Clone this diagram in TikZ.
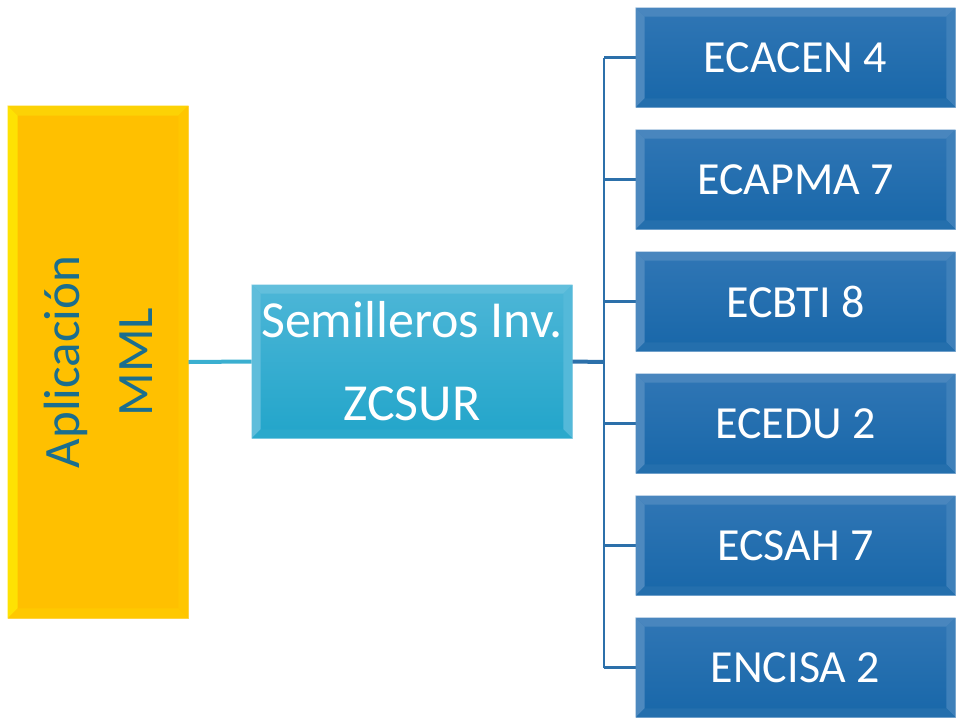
\documentclass[tikz,border=0pt]{standalone}
\usepackage{fontspec}
\setmainfont{Carlito}
\usetikzlibrary{calc}
\definecolor{ytext}{HTML}{1B6E8E}
\definecolor{yfill}{HTML}{FFC000}
\definecolor{ctop}{HTML}{4DB6D7}
\definecolor{cbot}{HTML}{22A5CA}
\definecolor{btop}{HTML}{3076B5}
\definecolor{bbot}{HTML}{1867A9}
\definecolor{cline}{HTML}{3AAFD0}
\definecolor{bline}{HTML}{2C70AA}
\newcommand{\bevelbox}[6]{%
  \fill[#3] (#1.north west) -- (#1.north east) -- ([xshift=-#2,yshift=-#2]#1.north east) -- ([xshift=#2,yshift=-#2]#1.north west) -- cycle;
  \fill[#4] (#1.north west) -- ([xshift=#2,yshift=-#2]#1.north west) -- ([xshift=#2,yshift=#2]#1.south west) -- (#1.south west) -- cycle;
  \fill[#5] (#1.north east) -- (#1.south east) -- ([xshift=-#2,yshift=#2]#1.south east) -- ([xshift=-#2,yshift=-#2]#1.north east) -- cycle;
  \fill[#6] (#1.south west) -- ([xshift=#2,yshift=#2]#1.south west) -- ([xshift=-#2,yshift=#2]#1.south east) -- (#1.south east) -- cycle;
}
\tikzset{
  ybox/.style={rectangle, inner sep=0pt, fill=yfill, draw=yfill!60!white, line width=0.8pt, minimum width=180pt, minimum height=512pt},
  cbox/.style={rectangle, inner sep=0pt, top color=ctop, bottom color=cbot, draw=ctop!50!white, line width=0.8pt, minimum width=320pt, minimum height=153pt},
  bbox/.style={rectangle, inner sep=0pt, top color=btop, bottom color=bbot, draw=btop!50!white, line width=0.8pt, minimum width=319pt, minimum height=99pt},
  ylabel/.style={rotate=90, align=center, text=ytext, font=\fontsize{51}{73}\selectfont},
  clabel/.style={align=center, text=white, font=\fontsize{52}{83}\selectfont},
  blabel/.style={text=white, font=\fontsize{46}{55}\selectfont},
  cconn/.style={draw=cline, line width=4pt},
  mconn/.style={draw=bline, line width=4pt},
  bconn/.style={draw=bline, line width=2.6pt},
}
\begin{document}
\begin{tikzpicture}[x=1pt,y=-1pt]
\useasboundingbox (0,0) rectangle (957,721);
\coordinate (bus) at (604,362);
% boxes
\node[ybox] (app) at (98,362) {};
\node[cbox] (sem) at (412,361.5) {};
\foreach \i/\y in {1/57.5,2/179.5,3/301.5,4/423.5,5/545.5,6/667.5}{
  \node[bbox] (e\i) at (795.5,\y) {};
}
% connectors
\draw[cconn] (app.east) -- (sem.west);
\draw[mconn] (sem.east) -- (bus);
\draw[bconn] (bus |- e1.west) -- (bus |- e6.west);
\foreach \i in {1,...,6}{
  \draw[bconn] (bus |- e\i.west) -- (e\i.west);
}
% bevels
\bevelbox{app}{10pt}{fill=yellow!40!yfill}{fill=yellow!70!yfill}{fill=yfill!90!yellow}{fill=yfill!88!yellow}
\bevelbox{sem}{9pt}{fill=ctop!88!white}{fill=ctop!90!white}{fill=ctop!96!white}{fill=cbot!96!white}
\foreach \i in {1,...,6}{
  \bevelbox{e\i}{9pt}{fill=btop!88!white}{fill=btop!86!white}{fill=btop!93!white}{fill=bbot!95!white}
}
% labels
\node[ylabel] at (app.center) {Aplicación\\MML};
\node[clabel] at (sem.center) {Semilleros Inv.\\ZCSUR};
\node[blabel] at (e1.center) {ECACEN 4};
\node[blabel] at (e2.center) {ECAPMA 7};
\node[blabel] at (e3.center) {ECBTI 8};
\node[blabel] at (e4.center) {ECEDU 2};
\node[blabel] at (e5.center) {ECSAH 7};
\node[blabel] at (e6.center) {ENCISA 2};
\end{tikzpicture}
\end{document}
